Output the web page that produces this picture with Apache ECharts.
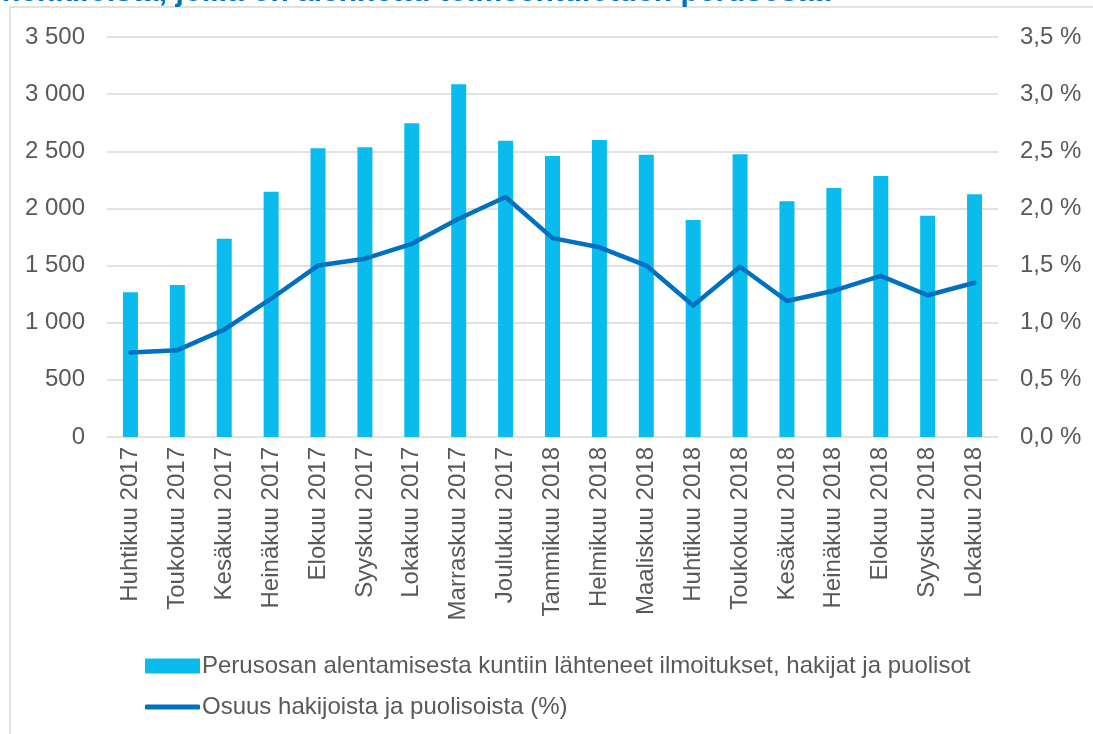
<!DOCTYPE html>
<html>
<head>
<meta charset="utf-8">
<script src="https://cdn.jsdelivr.net/npm/echarts@6/dist/echarts.min.js"></script>
<style>
html,body{margin:0;padding:0;background:#fff;}
#chart{width:1093px;height:734px;}
</style>
</head>
<body>
<div id="chart"></div>
<script>
const categories = ['Huhtikuu 2017','Toukokuu 2017','Kesäkuu 2017','Heinäkuu 2017','Elokuu 2017','Syyskuu 2017','Lokakuu 2017','Marraskuu 2017','Joulukuu 2017','Tammikuu 2018','Helmikuu 2018','Maaliskuu 2018','Huhtikuu 2018','Toukokuu 2018','Kesäkuu 2018','Heinäkuu 2018','Elokuu 2018','Syyskuu 2018','Lokakuu 2018'];
const barName = 'Perusosan alentamisesta kuntiin lähteneet ilmoitukset, hakijat ja puolisot';
const lineName = 'Osuus hakijoista ja puolisoista (%)';
const ilmoitukset = [1266, 1330, 1735, 2147, 2526, 2535, 2745, 3086, 2593, 2459, 2599, 2470, 1899, 2473, 2062, 2179, 2284, 1937, 2123];
const osuus = [0.74, 0.76, 0.94, 1.21, 1.50, 1.56, 1.69, 1.91, 2.10, 1.74, 1.66, 1.50, 1.15, 1.49, 1.19, 1.28, 1.41, 1.24, 1.35];
const titleText = 'henkilöistä, joilla on alennettu toimeentulotuen perusosaa';

const FONT = 'Liberation Sans, Arial, sans-serif';
const TXT = '#595959';

const chart = echarts.init(document.getElementById('chart'), null, {renderer: 'canvas'});
chart.setOption({
  animation: false,
  backgroundColor: '#ffffff',
  textStyle: {fontFamily: FONT},
  graphic: [
    {type: 'line', shape: {x1: 10, y1: 7, x2: 1093, y2: 7}, style: {stroke: '#d9d9d9', lineWidth: 1.5}},
    {type: 'line', shape: {x1: 10, y1: 7, x2: 10, y2: 734}, style: {stroke: '#d9d9d9', lineWidth: 1.5}},
    {type: 'text', left: 2, top: -22, z: 10, style: {text: titleText, fill: '#0070c0', font: 'bold 30px ' + FONT}}
  ],
  grid: {left: 107, right: 95, top: 37, bottom: 297, containLabel: false},
  legend: [
    {
      data: [{name: barName}],
      left: 145, top: 654, orient: 'vertical', padding: 0,
      itemWidth: 55, itemHeight: 15, itemGap: 0,
      icon: 'rect',
      textStyle: {fontSize: 24, color: TXT, fontFamily: FONT, padding: [0, 0, 0, -3]},
      selectedMode: false
    },
    {
      data: [{name: lineName}],
      left: 145, top: 695, orient: 'vertical', padding: 0,
      itemWidth: 55, itemHeight: 5,
      icon: 'roundRect',
      itemStyle: {borderWidth: 0},
      textStyle: {fontSize: 24, color: TXT, fontFamily: FONT, padding: [0, 0, 0, -3]},
      selectedMode: false
    }
  ],
  xAxis: {
    type: 'category',
    data: categories,
    axisLine: {show: false},
    axisTick: {show: false},
    axisLabel: {rotate: 90, interval: 0, fontSize: 24, color: TXT, margin: 10, fontFamily: FONT}
  },
  yAxis: [
    {
      type: 'value', min: 0, max: 3500, interval: 500,
      axisLine: {show: false}, axisTick: {show: false},
      splitLine: {lineStyle: {color: '#d9d9d9', width: 1.5}},
      axisLabel: {
        fontSize: 24, color: TXT, margin: 22, fontFamily: FONT,
        formatter: v => String(v).replace(/\B(?=(\d{3})+(?!\d))/g, ' ')
      }
    },
    {
      type: 'value', min: 0, max: 3.5, interval: 0.5,
      axisLine: {show: false}, axisTick: {show: false},
      splitLine: {show: false},
      axisLabel: {
        fontSize: 24, color: TXT, margin: 22, fontFamily: FONT,
        formatter: v => v.toFixed(1).replace('.', ',') + ' %'
      }
    }
  ],
  series: [
    {
      name: barName, type: 'bar', data: ilmoitukset, yAxisIndex: 0,
      barWidth: 15,
      itemStyle: {color: '#0abbed'}
    },
    {
      name: lineName, type: 'line', data: osuus, yAxisIndex: 1,
      symbol: 'none', showSymbol: false,
      lineStyle: {color: '#0070c0', width: 4.5, cap: 'round', join: 'round'},
      itemStyle: {color: '#0070c0'}
    }
  ]
});
</script>
</body>
</html>
